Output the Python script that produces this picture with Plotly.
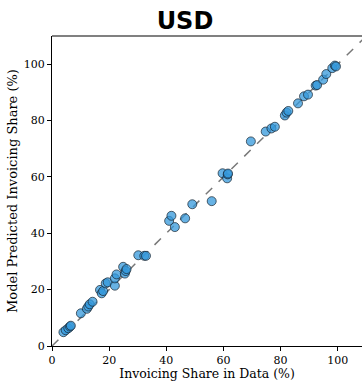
import plotly.graph_objects as go

data_share = [4.0, 4.8, 5.7, 6.3, 6.6, 10.1, 12.2, 12.7, 13.2, 14.2,
              16.8, 17.4, 17.9, 18.8, 19.5, 22.0, 22.0, 22.6, 24.9, 25.5,
              25.8, 26.1, 30.2, 32.3, 32.9,
              41.0, 41.8, 43.0, 46.6, 49.1, 55.9, 59.7, 61.3, 61.5, 61.6,
              69.6, 74.8, 76.8, 78.0, 81.5, 82.1, 82.7, 86.1, 88.2, 89.6,
              92.3, 92.8, 94.9, 96.0, 98.1, 99.0, 99.4]
model_share = [4.9, 5.6, 6.3, 6.9, 7.2, 11.6, 13.2, 14.0, 14.8, 15.7,
               19.9, 18.7, 19.5, 22.2, 22.6, 21.4, 24.0, 25.4, 28.1, 25.7,
               26.6, 27.3, 32.2, 32.0, 32.0,
               44.4, 46.2, 42.2, 45.3, 50.3, 51.4, 61.3, 59.5, 60.9, 61.2,
               72.6, 76.1, 77.2, 77.8, 81.8, 82.8, 83.4, 86.1, 88.6, 89.2,
               92.4, 92.6, 94.5, 96.5, 98.6, 99.5, 99.2]
x_ticks = [0, 20, 40, 60, 80, 100]
y_ticks = [0, 20, 40, 60, 80, 100]
axis_max = 110

fig = go.Figure()
fig.add_trace(go.Scatter(
    x=[0, axis_max], y=[0, axis_max], mode="lines",
    line=dict(color="rgb(120,120,120)", width=1.5, dash="dash"),
    hoverinfo="skip", showlegend=False))
fig.add_trace(go.Scatter(
    x=data_share, y=model_share, mode="markers",
    marker=dict(size=9, color="rgba(52,152,219,0.75)",
                line=dict(color="rgba(20,30,40,0.85)", width=0.8)),
    showlegend=False))

serif = "DejaVu Serif"
fig.update_layout(
    width=362, height=381,
    margin=dict(l=52, r=0, t=36, b=33),
    paper_bgcolor="white", plot_bgcolor="white",
    title=dict(text="<b>USD</b>", x=0.511, xref="container", y=0.947,
               yref="container", xanchor="center", yanchor="middle",
               font=dict(family="DejaVu Sans", size=24, color="black")),
    xaxis=dict(range=[0, 108.5], tickvals=x_ticks, ticks="outside", ticklen=4,
               tickcolor="black", showline=True, linecolor="black", linewidth=1,
               showgrid=False, zeroline=False,
               tickfont=dict(family=serif, size=11, color="black"),
               title=dict(text="Invoicing Share in Data (%)", standoff=5,
                          font=dict(family=serif, size=12.5, color="black"))),
    yaxis=dict(range=[0, axis_max], tickvals=y_ticks, ticks="outside", ticklen=4,
               tickcolor="black", showline=True, linecolor="black", linewidth=1,
               showgrid=False, zeroline=False,
               tickfont=dict(family=serif, size=11, color="black"),
               title=dict(text="Model Predicted Invoicing Share (%)", standoff=3,
                          font=dict(family=serif, size=13, color="black"))),
    shapes=[dict(type="line", xref="paper", yref="paper", x0=0, x1=1, y0=1, y1=1,
                 line=dict(color="rgb(128,128,128)", width=2))],
)
fig.write_html("out.html")
